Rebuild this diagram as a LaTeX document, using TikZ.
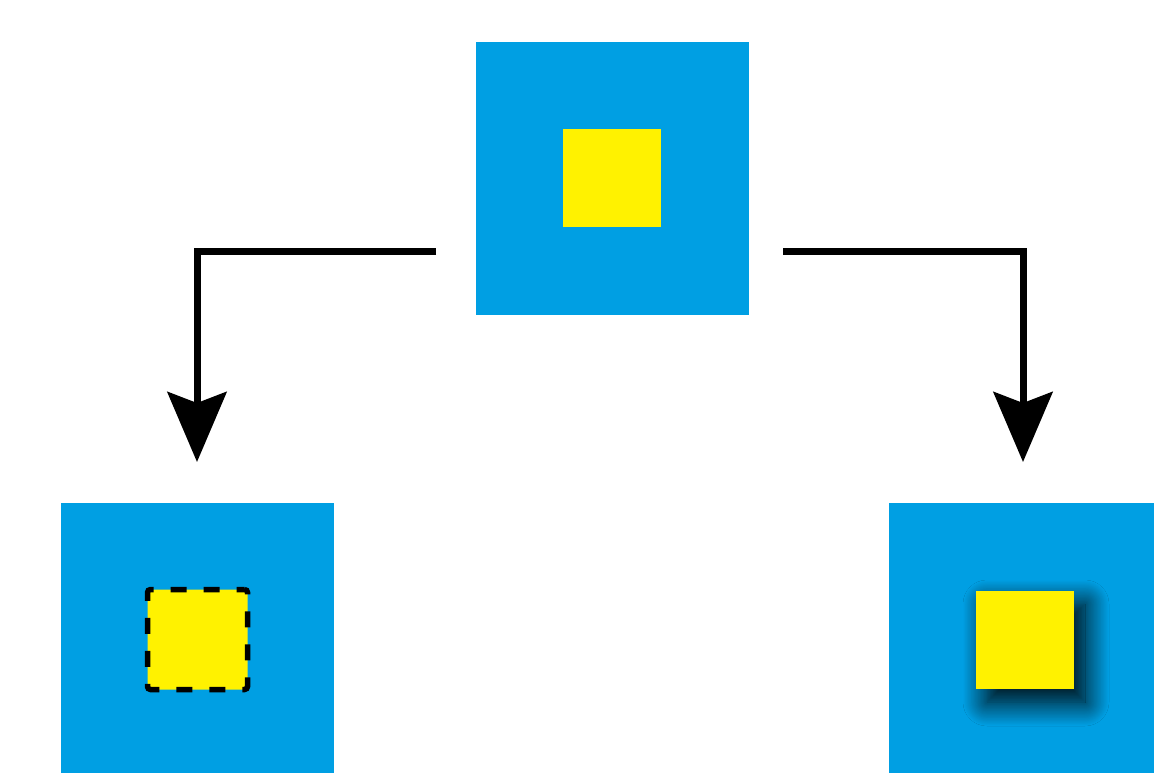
\documentclass[tikz,border=0pt]{standalone}
\usetikzlibrary{arrows.meta,shadows.blur}
\definecolor{cblue}{HTML}{009FE3}
\definecolor{cyell}{HTML}{FFF200}
\tikzset{
  bigsq/.style={fill=cblue,minimum size=273pt,inner sep=0pt,outer sep=0pt},
  smallsq/.style={fill=cyell,minimum size=98pt,inner sep=0pt,outer sep=0pt},
  dashsq/.style={smallsq,draw=black,line width=5.5pt,dash pattern=on 16pt off 17pt,dash phase=8pt,rounded corners=3pt,minimum size=100pt},
  shadsq/.style={smallsq,blur shadow={shadow xshift=11pt,shadow yshift=-13pt,shadow blur radius=24pt,shadow opacity=100,shadow blur steps=30}},
  conn/.style={line width=7pt,-{Stealth[length=70pt,width=59pt,inset=11pt]}}
}
\begin{document}
\begin{tikzpicture}[x=1pt,y=-1pt]
\clip (0,0) rectangle (1154,773);
\fill[white] (0,0) rectangle (1154,773);
\node[bigsq] (top) at (612.5,178.5) {};
\node[smallsq] (topin) at (612,178) {};
\node[bigsq] (left) at (197.5,639.5) {};
\node[dashsq] (leftin) at (197.5,639.5) {};
\node[bigsq] (right) at (1025.5,639.5) {};
\node[shadsq] (rightin) at (1025,640) {};
\coordinate (ls) at (436,251);
\coordinate (rs) at (783,251);
\coordinate (le) at (197,462);
\coordinate (re) at (1023,462);
\draw[conn] (ls) -| (le);
\draw[conn] (rs) -| (re);
\end{tikzpicture}
\end{document}
